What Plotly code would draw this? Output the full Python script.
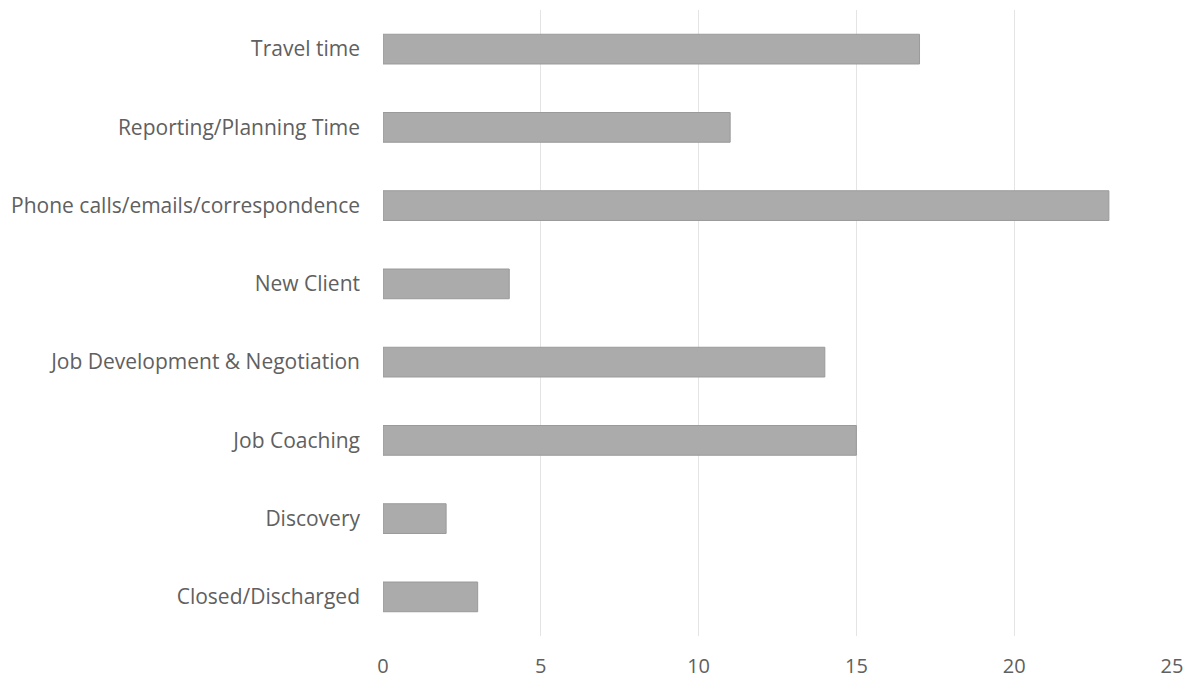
import plotly.graph_objects as go

categories = [
    "Travel time",
    "Reporting/Planning Time",
    "Phone calls/emails/correspondence",
    "New Client",
    "Job Development & Negotiation",
    "Job Coaching",
    "Discovery",
    "Closed/Discharged",
]
values = [17, 11, 23, 4, 14, 15, 2, 3]
x_ticks = [0, 5, 10, 15, 20, 25]

fig = go.Figure(
    go.Bar(
        x=values,
        y=categories,
        orientation="h",
        marker=dict(color="#ababab", line=dict(color="#9a9a9a", width=1)),
        width=0.38,
    )
)

fig.update_layout(
    width=1191,
    height=683,
    margin=dict(l=383, r=19, t=10, b=47),
    paper_bgcolor="white",
    plot_bgcolor="white",
    font=dict(family="Open Sans, sans-serif", size=20, color="#606060"),
    showlegend=False,
    bargap=0.62,
)

fig.update_xaxes(
    range=[0, 25],
    tickvals=x_ticks,
    tickfont=dict(size=20),
    showgrid=True,
    gridcolor="#e4e4e4",
    gridwidth=1,
    zeroline=False,
    showline=False,
    ticks="",
    ticklabelstandoff=16,
    automargin=False,
    fixedrange=True,
)

fig.update_yaxes(
    categoryorder="array",
    categoryarray=categories[::-1],
    tickfont=dict(size=21),
    showgrid=False,
    zeroline=False,
    showline=False,
    ticks="",
    ticklabelstandoff=22,
    automargin=False,
    fixedrange=True,
)

fig.write_html("out.html")
